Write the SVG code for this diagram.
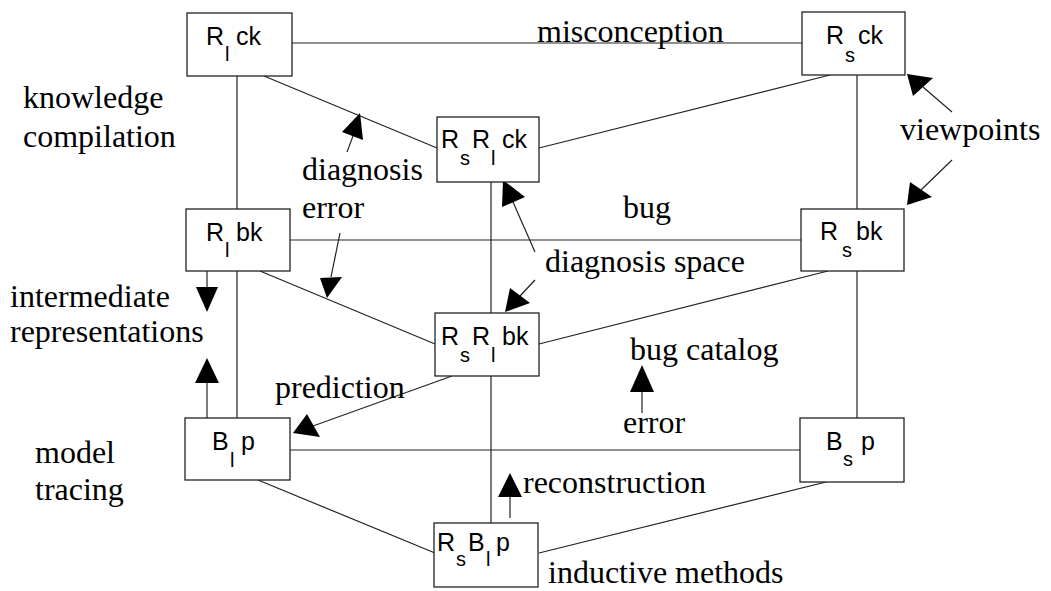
<svg xmlns="http://www.w3.org/2000/svg" width="1051" height="591" viewBox="0 0 1051 591">
<style>
.box{fill:#fff;stroke:#222;stroke-width:1.3}
.ln{stroke:#222;stroke-width:1.2;fill:none}
.hd{fill:#000;stroke:none}
.nt{font-family:"Liberation Sans",Arial,sans-serif;font-size:25px;fill:#000}
.sb{font-size:20px}
.lb{font-family:"Liberation Serif","Times New Roman",serif;font-size:32px;fill:#000}
</style>
<rect width="1051" height="591" fill="#fff"/>
<g id="connectors">
<line class="ln" x1="292" y1="43" x2="802" y2="43"/>
<line class="ln" x1="264" y1="76" x2="437" y2="148"/>
<line class="ln" x1="539" y1="148" x2="830" y2="75"/>
<line class="ln" x1="237" y1="76" x2="237" y2="209"/>
<line class="ln" x1="237" y1="271" x2="237" y2="418"/>
<line class="ln" x1="857" y1="75" x2="857" y2="209"/>
<line class="ln" x1="857" y1="271" x2="857" y2="418"/>
<line class="ln" x1="290" y1="240" x2="801" y2="240"/>
<line class="ln" x1="260" y1="271" x2="435" y2="344"/>
<line class="ln" x1="539" y1="344" x2="828" y2="271"/>
<line class="ln" x1="491" y1="182" x2="491" y2="313"/>
<line class="ln" x1="491" y1="376" x2="491" y2="523"/>
<line class="ln" x1="290" y1="450" x2="800" y2="450"/>
<line class="ln" x1="258" y1="480" x2="435" y2="553"/>
<line class="ln" x1="539" y1="553" x2="830" y2="481"/>
<line class="ln" x1="347" y1="152" x2="353" y2="136"/>
<polygon class="hd" points="360,113 342,132 363,140"/>
<line class="ln" x1="340" y1="233" x2="331" y2="277"/>
<polygon class="hd" points="327,298 320,278 342,277"/>
<line class="ln" x1="207" y1="271" x2="207" y2="287"/>
<polygon class="hd" points="207,312 196,287 218,287"/>
<line class="ln" x1="207" y1="383" x2="207" y2="418"/>
<polygon class="hd" points="207,358 195,383 219,383"/>
<line class="ln" x1="452" y1="376" x2="313" y2="426"/>
<polygon class="hd" points="293,433 307,414 320,437"/>
<line class="ln" x1="535" y1="252" x2="513" y2="202"/>
<polygon class="hd" points="503,180 502,207 525,197"/>
<line class="ln" x1="535" y1="280" x2="520" y2="296"/>
<polygon class="hd" points="505,312 510,288 530,303"/>
<line class="ln" x1="952" y1="112" x2="923" y2="87"/>
<polygon class="hd" points="907,74 913,96 933,78"/>
<line class="ln" x1="952" y1="160" x2="921" y2="190"/>
<polygon class="hd" points="907,205 910,182 932,197"/>
<line class="ln" x1="642" y1="392" x2="642" y2="413"/>
<polygon class="hd" points="642,365 630,392 654,392"/>
<line class="ln" x1="510" y1="497" x2="510" y2="518"/>
<polygon class="hd" points="510,473 498,497 522,497"/>
</g>
<g id="node-RIck">
<rect class="box" x="187" y="13" width="105" height="63"/>
<text class="nt"><tspan x="206" y="45">R</tspan><tspan class="sb" x="225" y="61">l</tspan><tspan x="236" y="45">ck</tspan></text>
</g>
<g id="node-Rsck">
<rect class="box" x="802" y="12" width="103" height="63"/>
<text class="nt"><tspan x="826" y="44">R</tspan><tspan class="sb" x="845" y="62">s</tspan><tspan x="858" y="44">ck</tspan></text>
</g>
<g id="node-RsRIck">
<rect class="box" x="437" y="117" width="102" height="65"/>
<text class="nt"><tspan x="441" y="148">R</tspan><tspan class="sb" x="460" y="165">s</tspan><tspan x="472" y="148">R</tspan><tspan class="sb" x="491" y="165">l</tspan><tspan x="502" y="148">ck</tspan></text>
</g>
<g id="node-RIbk">
<rect class="box" x="186" y="209" width="104" height="62"/>
<text class="nt"><tspan x="206" y="241">R</tspan><tspan class="sb" x="225" y="257">l</tspan><tspan x="236" y="241">bk</tspan></text>
</g>
<g id="node-Rsbk">
<rect class="box" x="801" y="209" width="103" height="62"/>
<text class="nt"><tspan x="820" y="240">R</tspan><tspan class="sb" x="842" y="257">s</tspan><tspan x="856" y="240">bk</tspan></text>
</g>
<g id="node-RsRIbk">
<rect class="box" x="435" y="313" width="104" height="63"/>
<text class="nt"><tspan x="441" y="345">R</tspan><tspan class="sb" x="460" y="362">s</tspan><tspan x="472" y="345">R</tspan><tspan class="sb" x="491" y="362">l</tspan><tspan x="502" y="345">bk</tspan></text>
</g>
<g id="node-BIp">
<rect class="box" x="185" y="418" width="105" height="62"/>
<text class="nt"><tspan x="212" y="450">B</tspan><tspan class="sb" x="230" y="467">l</tspan><tspan x="241" y="450">p</tspan></text>
</g>
<g id="node-Bsp">
<rect class="box" x="800" y="418" width="104" height="64"/>
<text class="nt"><tspan x="826" y="450">B</tspan><tspan class="sb" x="843" y="466">s</tspan><tspan x="861" y="450">p</tspan></text>
</g>
<g id="node-RsBIp">
<rect class="box" x="434" y="523" width="104" height="64"/>
<text class="nt"><tspan x="437" y="551">R</tspan><tspan class="sb" x="456" y="566">s</tspan><tspan x="468" y="551">B</tspan><tspan class="sb" x="486" y="566">l</tspan><tspan x="496" y="551">p</tspan></text>
</g>
<g id="labels">
<text class="lb" x="537" y="42">misconception</text>
<text class="lb" x="23" y="108">knowledge</text>
<text class="lb" x="23" y="147">compilation</text>
<text class="lb" x="302" y="180">diagnosis</text>
<text class="lb" x="302" y="218">error</text>
<text class="lb" x="623" y="218">bug</text>
<text class="lb" x="900" y="140">viewpoints</text>
<text class="lb" x="545" y="272">diagnosis space</text>
<text class="lb" x="10" y="307">intermediate</text>
<text class="lb" x="10" y="342">representations</text>
<text class="lb" x="630" y="360">bug catalog</text>
<text class="lb" x="275" y="398">prediction</text>
<text class="lb" x="623" y="433">error</text>
<text class="lb" x="35" y="463">model</text>
<text class="lb" x="35" y="500">tracing</text>
<text class="lb" x="523" y="493">reconstruction</text>
<text class="lb" x="548" y="583">inductive methods</text>
</g>
</svg>
